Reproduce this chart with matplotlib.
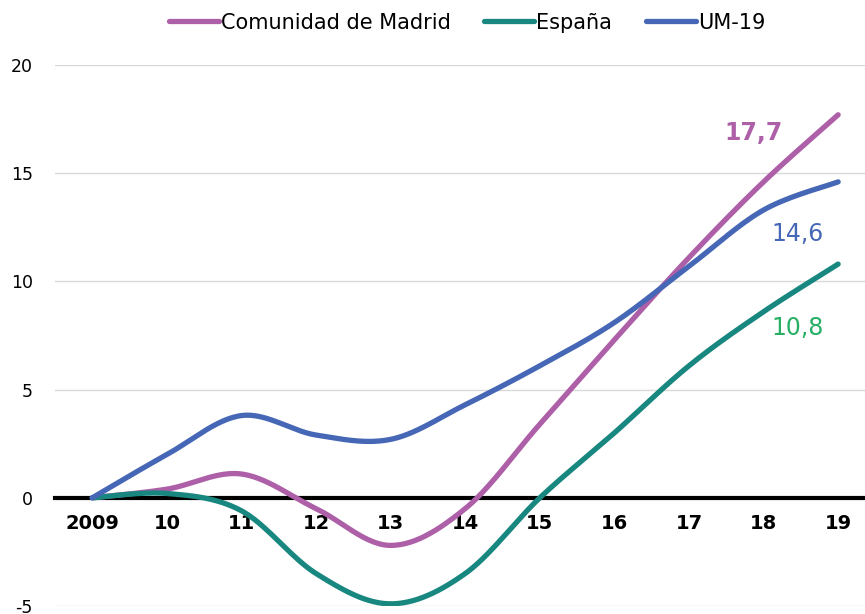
import numpy as np
import matplotlib
matplotlib.use('Agg')
import matplotlib.pyplot as plt
from matplotlib import font_manager

years = ['2009', '10', '11', '12', '13', '14', '15', '16', '17', '18', '19']
madrid = [0, 0.4, 1.1, -0.5, -2.2, -0.5, 3.4, 7.3, 11.1, 14.6, 17.7]
espana = [0, 0.2, -0.6, -3.5, -4.9, -3.5, 0.0, 3.0, 6.1, 8.6, 10.8]
um19 = [0, 2.0, 3.8, 2.9, 2.7, 4.3, 6.1, 8.1, 10.7, 13.3, 14.6]
yticks = [-5, 0, 5, 10, 15, 20]

c_madrid = '#AD5FA8'
c_espana = '#17877F'
c_um = '#4567B6'

# narrow font for legend and x labels if available
names = {f.name for f in font_manager.fontManager.ttflist}
narrow = ['Liberation Sans Narrow', 'DejaVu Sans'] if 'Liberation Sans Narrow' in names else ['DejaVu Sans']


def smooth(y, n=30):
    # Catmull-Rom curve through the points, like Excel's smoothed lines
    x = np.arange(len(y), dtype=float)
    p = np.column_stack([x, np.asarray(y, dtype=float)])
    p = np.vstack([p[0], p, p[-1]])
    out = []
    t = np.linspace(0, 1, n, endpoint=False)[:, None]
    for i in range(1, len(p) - 2):
        p0, p1, p2, p3 = p[i - 1], p[i], p[i + 1], p[i + 2]
        c1 = p1 + (p2 - p0) / 6
        c2 = p2 - (p3 - p1) / 6
        seg = ((1 - t) ** 3) * p1 + 3 * ((1 - t) ** 2) * t * c1 + 3 * (1 - t) * t ** 2 * c2 + t ** 3 * p2
        out.append(seg)
    out.append(p[-2][None, :])
    out = np.vstack(out)
    return out[:, 0], out[:, 1]


fig = plt.figure(figsize=(8.65, 6.14), dpi=100)
ax = fig.add_axes([55 / 865, 8 / 614, 1 - 55 / 865, (606 - 65) / 614])

for v in yticks:
    if v != 0:
        ax.axhline(v, color='#D9D9D9', lw=1, zorder=0)

for data, col, lab in [(madrid, c_madrid, 'Comunidad de Madrid'),
                       (espana, c_espana, 'España'),
                       (um19, c_um, 'UM-19')]:
    sx, sy = smooth(data)
    ax.plot(sx, sy, color=col, lw=3.8, solid_capstyle='round', label=lab, zorder=3)

for s in ['top', 'right', 'left']:
    ax.spines[s].set_visible(False)
ax.spines['bottom'].set_position(('data', 0))
ax.spines['bottom'].set_linewidth(3)
ax.spines['bottom'].set_zorder(2)
ax.tick_params(axis='both', length=0)
ax.tick_params(axis='x', pad=12)
ax.tick_params(axis='y', pad=16)

ax.set_xlim(-0.5, 10.36)
ax.set_ylim(-5, 20)
ax.set_yticks(yticks)
ax.set_yticklabels([str(v) for v in yticks], fontsize=12.5)
ax.set_xticks(range(len(years)))
ax.set_xticklabels(years)
for t in ax.get_xticklabels():
    t.set_fontsize(14)
    t.set_fontweight('bold')
    t.set_family(narrow)

ax.text(8.86, 16.86, '17,7', color=c_madrid, fontsize=17, fontweight='bold', ha='center', va='center')
ax.text(9.46, 12.2, '14,6', color=c_um, fontsize=17, ha='center', va='center')
ax.text(9.46, 7.85, '10,8', color='#27B065', fontsize=17, ha='center', va='center')

fig.legend(loc='upper center', bbox_to_anchor=(0.54, 1.01), ncol=3, frameon=False,
           prop={'family': narrow, 'size': 15}, handlelength=2.4, handletextpad=0.1,
           columnspacing=1.6)

fig.savefig('out.png', dpi=100)
